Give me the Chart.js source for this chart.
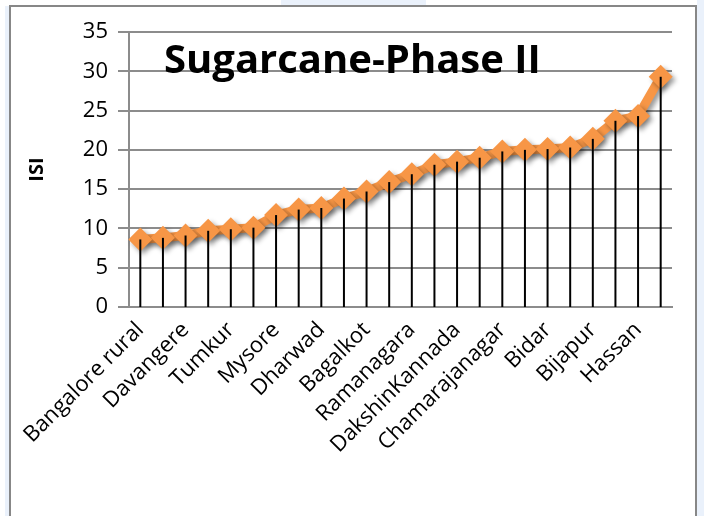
<!DOCTYPE html>
<html>
<head>
<meta charset="utf-8">
<script src="https://cdn.jsdelivr.net/npm/chart.js@4.4.1/dist/chart.umd.min.js"></script>
<style>
  html, body { margin: 0; padding: 0; background: #fff; }
  #wrap { position: relative; width: 704px; height: 516px; overflow: hidden; }
  #chart { position: absolute; left: 0; top: 0; }
  .strip { position: absolute; background: #eaf1fb; }
  #frame { position: absolute; left: 9px; top: 5px; width: 684px; height: 530px;
           border: 2px solid #878787; border-bottom: none; pointer-events: none; }
</style>
</head>
<body>
<div id="wrap">
  <div class="strip" style="left:5px; top:6px; width:4px; height:510px;"></div>
  <div class="strip" style="left:697px; top:0; width:7px; height:516px;"></div>
  <div class="strip" style="left:281px; top:0; width:145px; height:5px;"></div>
  <canvas id="chart" width="704" height="516"></canvas>
  <div id="frame"></div>
</div>
<script>
// Districts, ordered by ISI (only every other name is printed on the axis)
const districts = [
  'Bangalore rural', 'Chitradurga', 'Davangere', 'Kolar', 'Tumkur', 'Mandya',
  'Mysore', 'Shimoga', 'Dharwad', 'Gadag', 'Bagalkot', 'Haveri',
  'Ramanagara', 'Belgaum', 'DakshinKannada', 'Udupi', 'Chamarajanagar', 'Chikmagalur',
  'Bidar', 'Gulbarga', 'Bijapur', 'Bellary', 'Hassan', 'Raichur'
];
const isiValues = [
  8.6, 8.8, 9.1, 9.7, 9.9, 10.1,
  11.7, 12.4, 12.6, 13.8, 14.7, 15.9,
  16.9, 18.1, 18.5, 19.0, 19.8, 20.0,
  20.1, 20.3, 21.4, 23.7, 24.3, 29.3
];
const yTicks = [0, 5, 10, 15, 20, 25, 30, 35];

const chartTitle = 'Sugarcane-Phase II';
const yAxisTitle = 'ISI';

const orange = '#f79646';
const gridGray = '#8c8c8c';
const tickFont = { family: 'Open Sans', size: 22 };

// Soft grey shadow under the orange series (Excel style)
const shadowPlugin = {
  id: 'shadowPlugin',
  beforeDatasetsDraw(chart) {
    const ctx = chart.ctx;
    ctx.save();
    ctx.shadowColor = 'rgba(0,0,0,0.4)';
    ctx.shadowBlur = 5;
    ctx.shadowOffsetX = 3;
    ctx.shadowOffsetY = 3;
  },
  afterDatasetsDraw(chart) {
    chart.ctx.restore();
  }
};

// Black drop lines from each point down to the category axis
const dropLinesPlugin = {
  id: 'dropLinesPlugin',
  afterDatasetsDraw(chart) {
    const { ctx, scales } = chart;
    const meta = chart.getDatasetMeta(0);
    const yZero = scales.y.getPixelForValue(0);
    ctx.save();
    ctx.strokeStyle = '#000';
    ctx.lineWidth = 2;
    meta.data.forEach(pt => {
      ctx.beginPath();
      ctx.moveTo(pt.x, pt.y);
      ctx.lineTo(pt.x, yZero);
      ctx.stroke();
    });
    ctx.restore();
  }
};

// Chart title sits inside the plot area, top-left
const titlePlugin = {
  id: 'insideTitle',
  afterDraw(chart) {
    const { ctx, chartArea } = chart;
    ctx.save();
    ctx.fillStyle = '#000';
    ctx.font = 'bold 40px "Open Sans"';
    ctx.textAlign = 'left';
    ctx.textBaseline = 'alphabetic';
    ctx.fillText(chartTitle, chartArea.left + 35, 73);
    ctx.restore();
  }
};

new Chart(document.getElementById('chart'), {
  type: 'line',
  data: {
    labels: districts,
    datasets: [{
      data: isiValues,
      borderColor: orange,
      borderWidth: 9,
      backgroundColor: orange,
      pointStyle: 'rectRot',
      pointRadius: 12,
      pointBorderWidth: 0,
      pointBackgroundColor: orange,
      tension: 0,
      fill: false
    }]
  },
  options: {
    responsive: false,
    animation: false,
    layout: { padding: { top: 32, right: 32, left: 0, bottom: 0 } },
    plugins: { legend: { display: false }, tooltip: { enabled: false } },
    scales: {
      x: {
        offset: true,
        grid: { display: true, drawOnChartArea: false, drawTicks: false },
        border: { display: true, color: gridGray, width: 2 },
        ticks: {
          autoSkip: false,
          minRotation: 45,
          maxRotation: 45,
          padding: 10,
          color: '#000',
          font: tickFont,
          callback: (v, i) => (i % 2 === 0 ? districts[i] : '')
        },
        afterFit: s => { s.height = 209; }
      },
      y: {
        min: 0,
        max: 35,
        afterBuildTicks: s => { s.ticks = yTicks.map(v => ({ value: v })); },
        grid: { color: gridGray, lineWidth: 2, tickLength: 11 },
        border: { display: true, color: gridGray, width: 2 },
        ticks: { color: '#000', font: tickFont, padding: 10 },
        title: {
          display: true,
          text: yAxisTitle,
          color: '#000',
          font: { family: 'Open Sans', size: 20, weight: 'bold' },
          padding: { top: 25, bottom: 0 }
        },
        afterFit: s => { s.width = 129; }
      }
    }
  },
  plugins: [shadowPlugin, dropLinesPlugin, titlePlugin]
});
</script>
</body>
</html>
